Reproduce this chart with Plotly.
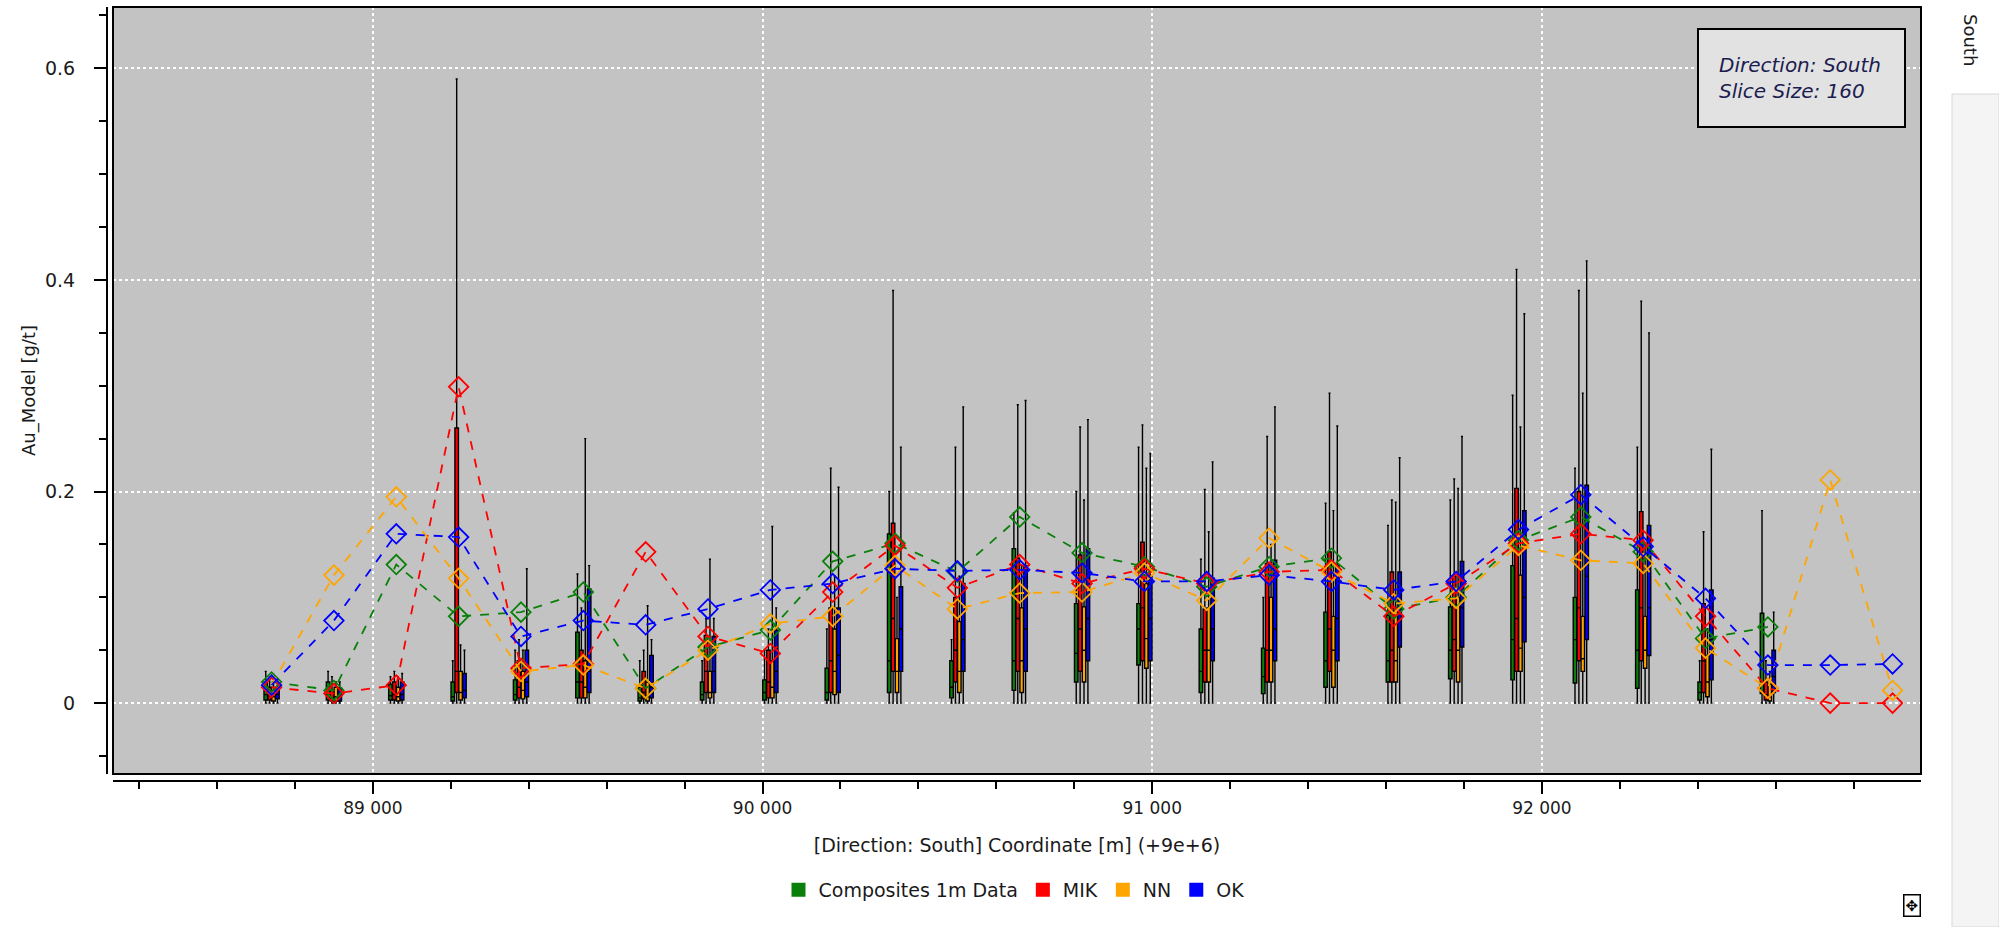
import plotly.graph_objects as go

# ---------------- data ----------------
slice_centers = [88740, 88900, 89060, 89220, 89380, 89540, 89700, 89860, 90020,
                 90180, 90340, 90500, 90660, 90820, 90980, 91140, 91300, 91460,
                 91620, 91780, 91940, 92100, 92260, 92420, 92580, 92740, 92900]

series_names = ["Composites 1m Data", "MIK", "NN", "OK"]

# slice means (dashed lines with diamonds)
comp_mean = [0.020, 0.012, 0.131, 0.082, 0.086, 0.105, 0.014, 0.053, 0.069, 0.134,
             0.151, 0.124, 0.176, 0.142, 0.129, 0.110, 0.129, 0.137, 0.089, 0.100,
             0.154, 0.176, 0.143, 0.061, 0.072, None, None]
mik_mean = [0.015, 0.009, 0.017, 0.299, 0.033, 0.037, 0.143, 0.063, 0.047, 0.105,
            0.149, 0.109, 0.131, 0.113, 0.127, 0.113, 0.124, 0.126, 0.082, 0.113,
            0.151, 0.160, 0.154, 0.082, 0.014, 0.000, 0.000]
nn_mean = [0.017, 0.121, 0.195, 0.118, 0.030, 0.036, 0.014, 0.050, 0.075, 0.082,
           0.130, 0.089, 0.104, 0.105, 0.123, 0.097, 0.156, 0.124, 0.094, 0.099,
           0.149, 0.135, 0.132, 0.052, 0.014, 0.211, 0.012]
ok_mean = [0.017, 0.078, 0.160, 0.157, 0.063, 0.078, 0.074, 0.089, 0.107, 0.113,
           0.127, 0.125, 0.126, 0.123, 0.115, 0.115, 0.121, 0.115, 0.107, 0.115,
           0.164, 0.197, 0.148, 0.099, 0.036, 0.036, 0.037]

# box statistics per slice: q1, median, q3, max (min is 0 everywhere shown)
comp_q1 = [0.003, 0.003, 0.003, 0.002, 0.003, 0.005, 0.002, 0.003, 0.003, 0.003, 0.010, 0.005, 0.012, 0.020, 0.036, 0.010, 0.009, 0.015, 0.020, 0.023, 0.022, 0.019, 0.014, 0.003, 0.009, None, None]
comp_med = [0.008, 0.008, 0.007, 0.006, 0.008, 0.020, 0.005, 0.008, 0.010, 0.010, 0.040, 0.015, 0.040, 0.047, 0.070, 0.030, 0.025, 0.040, 0.040, 0.050, 0.060, 0.060, 0.050, 0.010, 0.040, None, None]
comp_q3 = [0.020, 0.020, 0.018, 0.020, 0.022, 0.067, 0.015, 0.020, 0.022, 0.033, 0.160, 0.040, 0.146, 0.094, 0.094, 0.070, 0.052, 0.086, 0.083, 0.091, 0.130, 0.100, 0.107, 0.020, 0.085, None, None]
comp_max = [0.030, 0.030, 0.025, 0.040, 0.050, 0.122, 0.040, 0.040, 0.050, 0.070, 0.200, 0.060, 0.180, 0.200, 0.242, 0.136, 0.100, 0.189, 0.168, 0.192, 0.291, 0.222, 0.242, 0.040, 0.182, None, None]

mik_q1 = [0.003, 0.002, 0.003, 0.010, 0.005, 0.005, 0.004, 0.010, 0.005, 0.010, 0.030, 0.020, 0.030, 0.030, 0.040, 0.020, 0.020, 0.030, 0.020, 0.030, 0.030, 0.040, 0.040, 0.010, 0.003, None, None]
mik_med = [0.007, 0.005, 0.008, 0.030, 0.015, 0.020, 0.010, 0.030, 0.020, 0.040, 0.080, 0.050, 0.080, 0.070, 0.090, 0.050, 0.050, 0.070, 0.050, 0.060, 0.080, 0.090, 0.090, 0.040, 0.008, None, None]
mik_q3 = [0.015, 0.012, 0.020, 0.260, 0.040, 0.050, 0.030, 0.064, 0.050, 0.090, 0.170, 0.100, 0.137, 0.140, 0.152, 0.089, 0.132, 0.143, 0.124, 0.120, 0.203, 0.200, 0.181, 0.094, 0.020, None, None]
mik_max = [0.025, 0.025, 0.030, 0.590, 0.060, 0.090, 0.050, 0.080, 0.070, 0.222, 0.390, 0.242, 0.282, 0.261, 0.263, 0.202, 0.252, 0.293, 0.192, 0.212, 0.410, 0.390, 0.380, 0.162, 0.040, None, None]

nn_q1 = [0.002, 0.002, 0.002, 0.003, 0.004, 0.005, 0.002, 0.005, 0.005, 0.008, 0.010, 0.010, 0.010, 0.020, 0.033, 0.020, 0.020, 0.015, 0.020, 0.020, 0.030, 0.030, 0.033, 0.006, 0.002, None, None]
nn_med = [0.006, 0.006, 0.006, 0.010, 0.012, 0.015, 0.006, 0.010, 0.015, 0.030, 0.030, 0.030, 0.040, 0.050, 0.061, 0.050, 0.050, 0.050, 0.040, 0.050, 0.052, 0.042, 0.050, 0.020, 0.006, None, None]
nn_q3 = [0.012, 0.015, 0.015, 0.030, 0.030, 0.040, 0.020, 0.030, 0.040, 0.070, 0.061, 0.077, 0.090, 0.091, 0.113, 0.090, 0.100, 0.082, 0.090, 0.100, 0.121, 0.082, 0.082, 0.045, 0.018, None, None]
nn_max = [0.020, 0.020, 0.022, 0.055, 0.050, 0.250, 0.092, 0.136, 0.167, 0.120, 0.100, 0.120, 0.130, 0.192, 0.222, 0.162, 0.150, 0.182, 0.190, 0.203, 0.261, 0.293, 0.150, 0.070, 0.030, None, None]

ok_q1 = [0.004, 0.002, 0.003, 0.005, 0.006, 0.010, 0.005, 0.010, 0.010, 0.010, 0.030, 0.030, 0.030, 0.040, 0.040, 0.040, 0.040, 0.040, 0.053, 0.053, 0.058, 0.060, 0.045, 0.022, 0.010, None, None]
ok_med = [0.008, 0.006, 0.008, 0.012, 0.020, 0.030, 0.015, 0.030, 0.030, 0.045, 0.070, 0.060, 0.070, 0.080, 0.080, 0.070, 0.070, 0.080, 0.090, 0.090, 0.100, 0.120, 0.090, 0.060, 0.025, None, None]
ok_q3 = [0.015, 0.014, 0.020, 0.028, 0.050, 0.108, 0.045, 0.063, 0.069, 0.090, 0.110, 0.113, 0.130, 0.146, 0.120, 0.118, 0.135, 0.130, 0.124, 0.134, 0.182, 0.206, 0.168, 0.107, 0.050, None, None]
ok_max = [0.022, 0.020, 0.028, 0.050, 0.127, 0.130, 0.060, 0.080, 0.090, 0.204, 0.242, 0.280, 0.286, 0.268, 0.236, 0.228, 0.280, 0.262, 0.232, 0.252, 0.368, 0.418, 0.350, 0.240, 0.086, None, None]

x_ticks = [89000, 90000, 91000, 92000]
y_ticks = [0, 0.2, 0.4, 0.6]

# ---------------- style ----------------
colors = ["#0a800a", "#ff0000", "#ffa500", "#0000ff"]
box_offsets = [-15, -5, 5, 15]   # metres within a slice
box_width = 9
FONT = "DejaVu Sans"

means = [comp_mean, mik_mean, nn_mean, ok_mean]
stats = [(comp_q1, comp_med, comp_q3, comp_max),
         (mik_q1, mik_med, mik_q3, mik_max),
         (nn_q1, nn_med, nn_q3, nn_max),
         (ok_q1, ok_med, ok_q3, ok_max)]

fig = go.Figure()

# boxes
for i, name in enumerate(series_names):
    q1, med, q3, mx = stats[i]
    idx = [k for k in range(len(slice_centers)) if q1[k] is not None]
    fig.add_trace(go.Box(
        x=[slice_centers[k] + box_offsets[i] for k in idx],
        q1=[q1[k] for k in idx],
        median=[med[k] for k in idx],
        q3=[q3[k] for k in idx],
        lowerfence=[0 for k in idx],
        upperfence=[mx[k] for k in idx],
        width=box_width,
        fillcolor=colors[i],
        line=dict(color="black", width=1.4),
        whiskerwidth=0.6,
        boxpoints=False,
        showlegend=False,
        name=name,
        hoverinfo="skip",
    ))

# mean lines
for i, name in enumerate(series_names):
    fig.add_trace(go.Scatter(
        x=slice_centers, y=means[i], mode="lines+markers",
        line=dict(color=colors[i], width=1.8, dash="dash"),
        marker=dict(symbol="diamond-open", size=15, color=colors[i],
                    line=dict(width=1.8, color=colors[i])),
        connectgaps=False, showlegend=False, name=name,
    ))

# legend entries
for i, name in enumerate(series_names):
    fig.add_trace(go.Scatter(
        x=[None], y=[None], mode="markers", name=name,
        marker=dict(symbol="square", size=14, color=colors[i]),
    ))

W, H = 1999, 927
ml, mr, mt, mb = 107, 78, 7, 146
pw = W - ml - mr
ph = H - mt - mb

fig.update_layout(
    width=W, height=H,
    margin=dict(l=ml, r=mr, t=mt, b=mb, pad=0),
    paper_bgcolor="white",
    plot_bgcolor="#c3c3c3",
    separators=". ",
    boxmode="overlay",
    font=dict(family=FONT, size=18, color="#1a1a1a"),
    legend=dict(orientation="h", x=0.5, xanchor="center", y=-(890 - 781) / ph,
                yanchor="middle", font=dict(size=19), itemwidth=30,
                bgcolor="rgba(0,0,0,0)"),
    xaxis=dict(
        domain=[6 / pw, 1], range=[88333, 92973],
        anchor="free", position=0,
        tickvals=x_ticks, tickformat=",d",
        tickfont=dict(size=17),
        showline=True, linecolor="black", linewidth=2,
        ticks="outside", ticklen=12, tickwidth=1.5, tickcolor="black",
        minor=dict(dtick=200, tick0=88000, ticks="outside", ticklen=7,
                   tickwidth=1.5, tickcolor="black", showgrid=False),
        showgrid=True, gridcolor="white", griddash="dot", gridwidth=2,
        zeroline=False,
        title=dict(text="[Direction: South] Coordinate [m] (+9e+6)",
                   font=dict(size=19), standoff=20),
    ),
    yaxis=dict(
        domain=[7 / ph, 1], range=[-0.067, 0.658],
        anchor="free", position=0,
        tickvals=y_ticks,
        tickfont=dict(size=19),
        showline=True, linecolor="black", linewidth=2,
        ticks="outside", ticklen=12, tickwidth=1.5, tickcolor="black",
        ticklabelstandoff=15,
        minor=dict(dtick=0.05, tick0=0, ticks="outside", ticklen=7,
                   tickwidth=1.5, tickcolor="black", showgrid=False),
        showgrid=True, gridcolor="white", griddash="dot", gridwidth=2,
        zeroline=False,
        title=dict(text="Au_Model [g/t]", font=dict(size=18), standoff=4),
    ),
)

# plot frame
fig.add_shape(type="rect", xref="x domain", yref="y domain", x0=0, x1=1, y0=0, y1=1,
              line=dict(color="black", width=2), layer="above")

# info box
fig.add_annotation(
    xref="x domain", yref="y domain", x=0.9915, y=0.9726, xanchor="right", yanchor="top",
    text="<i>Direction: South<br>Slice Size: 160</i>", showarrow=False, align="left",
    font=dict(family=FONT, size=20, color="#1c1c50"),
    bgcolor="#e2e2e2", bordercolor="black", borderwidth=2, borderpad=20,
    width=165, height=56, valign="middle",
)

# side panel label and strip
fig.add_shape(type="rect", xref="paper", yref="paper",
              x0=(1952 - ml) / pw, x1=(W - ml) / pw,
              y0=(781 - H) / ph, y1=(781 - 94) / ph,
              line=dict(color="#d8d8d8", width=1), fillcolor="#f4f4f4", layer="below")
fig.add_annotation(xref="paper", yref="paper", x=(1970 - ml) / pw, y=(781 - 40) / ph,
                   xanchor="center", yanchor="middle",
                   text="South", textangle=90, showarrow=False,
                   font=dict(family=FONT, size=18, color="#1a1a1a"))
fig.add_annotation(xref="paper", yref="paper", x=(1912 - ml) / pw, y=(781 - 905) / ph,
                   xanchor="center", yanchor="middle",
                   text="✥", showarrow=False, bordercolor="black", borderwidth=1.5,
                   borderpad=1, bgcolor="white",
                   font=dict(family="DejaVu Sans", size=15, color="black"))

fig.write_html("out.html", post_script="document.body.style.margin='0';",
               config={"displayModeBar": False})
